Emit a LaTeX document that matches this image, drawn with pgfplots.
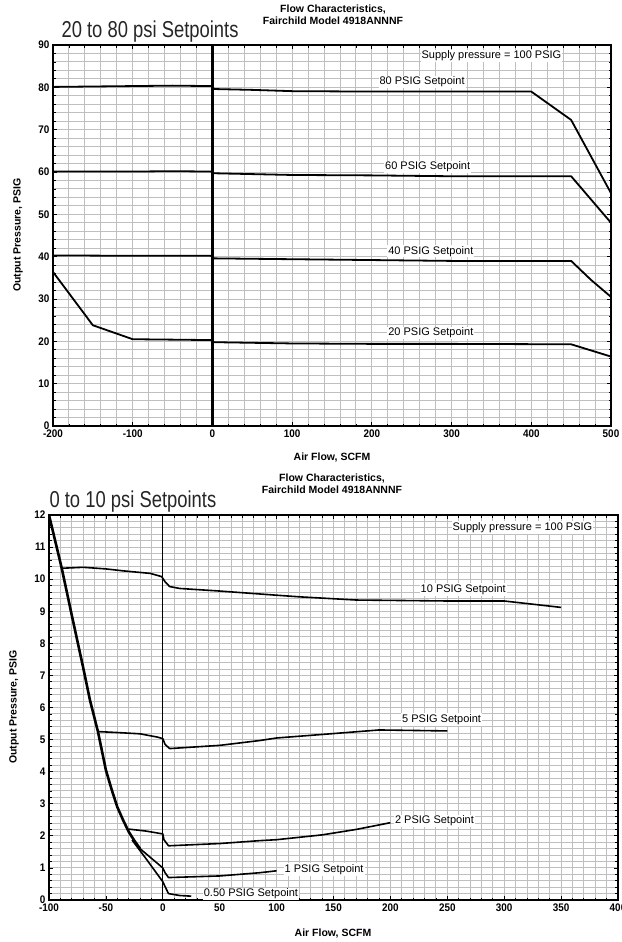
\documentclass[border=0pt]{standalone}
\usepackage{pgfplots}
\pgfplotsset{compat=1.18}
\usepackage{fontspec}
\setmainfont{Liberation Sans}
\newfontfamily\tickf[FakeStretch=0.9]{Liberation Sans}
\newfontfamily\bigt[FakeStretch=0.8]{Liberation Sans}

\pgfplotsset{
  flowaxis/.style={
    scale only axis,
    anchor=south west,
    grid=both,
    grid style={line width=0.9pt, black!25},
    minor grid style={line width=0.9pt, black!25},
    minor x tick num=4,
    minor y tick num=4,
    tick style={black, line width=0.8pt},
    major tick length=4pt,
    minor tick length=2.5pt,
    axis line style={line width=1.6pt},
    /pgf/number format/assume math mode=true,
    tick label style={font=\tickf\bfseries\fontsize{11}{11}\selectfont},
    cycle list={{black, solid, no marks}},
    every axis plot/.append style={line width=1.8pt, line join=round},
  },
}
\tikzset{lbl/.style={fill=white, inner sep=1pt, font=\fontsize{11}{11}\selectfont}}

\begin{document}
\begin{tikzpicture}
\useasboundingbox (0pt,0pt) rectangle (621pt,-942pt);

% ---------- upper chart: 20 to 80 psi ----------
\node[font=\bfseries\fontsize{10.5}{12}\selectfont, align=center] at (333pt,-15pt)
  {Flow Characteristics,\\Fairchild Model 4918ANNNF};
\node[anchor=base west, font=\bigt\fontsize{23}{23}\selectfont, text=black!85] at (58pt,-38pt)
  {20 to 80 psi Setpoints};
\node[font=\bfseries\fontsize{10.5}{12}\selectfont] at (332pt,-458pt) {Air Flow, SCFM};
\node[rotate=90, font=\bfseries\fontsize{10.5}{12}\selectfont] at (18pt,-235pt) {Output Pressure, PSIG};

\begin{axis}[
    flowaxis,
    at={(53pt,-426pt)},
    width=558pt, height=381pt,
    xmin=-200, xmax=500,
    ymin=0, ymax=90,
    xtick={-200,-100,...,500},
    ytick={0,10,...,90},
]
% zero flow line
\addplot[line width=2.4pt] coordinates {(0,0) (0,90)};

% 80 PSIG
\addplot coordinates {
  (-200,80.1) (-100,80.3) (-50,80.4) (-2,80.3) (0,80.2) (2,79.6) (50,79.4)
  (100,79.1) (200,79.0) (300,79.0) (400,79.0) (450,72.3) (500,55.0)
};
% 60 PSIG
\addplot coordinates {
  (-200,60.1) (-100,60.1) (-50,60.2) (-2,60.1) (0,60.0) (2,59.7) (100,59.3)
  (200,59.2) (300,59.0) (450,59.0) (500,48.0)
};
% 40 PSIG
\addplot coordinates {
  (-200,40.3) (-100,40.2) (-2,40.2) (0,40.0) (2,39.6) (100,39.4) (200,39.2)
  (300,39.0) (450,39.0) (475,34.5) (500,30.5)
};
% 20 PSIG
\addplot coordinates {
  (-200,36.4) (-150,23.8) (-100,20.5) (-50,20.4) (-2,20.3) (0,20.1) (2,19.8)
  (100,19.5) (200,19.4) (300,19.4) (450,19.3) (500,16.4)
};

\node[lbl] at (axis cs:350,87.4) {Supply pressure = 100 PSIG};
\node[lbl] at (axis cs:263,81.3) {80 PSIG Setpoint};
\node[lbl] at (axis cs:270,61.2) {60 PSIG Setpoint};
\node[lbl] at (axis cs:274,41.3) {40 PSIG Setpoint};
\node[lbl] at (axis cs:274,22.0) {20 PSIG Setpoint};
\end{axis}

% ---------- lower chart: 0 to 10 psi ----------
\node[font=\bfseries\fontsize{10.5}{12}\selectfont, align=center] at (332pt,-483.5pt)
  {Flow Characteristics,\\Fairchild Model 4918ANNNF};
\node[anchor=base west, font=\bigt\fontsize{23}{23}\selectfont, text=black!85] at (46pt,-507pt)
  {0 to 10 psi Setpoints};
\node[font=\bfseries\fontsize{10.5}{12}\selectfont] at (333pt,-933pt) {Air Flow, SCFM};
\node[rotate=90, font=\bfseries\fontsize{10.5}{12}\selectfont] at (14pt,-707pt) {Output Pressure, PSIG};

\begin{axis}[
    flowaxis,
    at={(49pt,-900pt)},
    width=569pt, height=385pt,
    xmin=-100, xmax=400,
    ymin=0, ymax=12,
    xtick={-100,-50,...,400},
    ytick={0,1,...,12},
    every axis plot/.append style={line width=1.6pt},
]
\addplot[line width=1.3pt] coordinates {(0,0) (0,12)};

% common envelope (reverse flow)
\addplot[line width=2.6pt] coordinates {
  (-100,12) (-88.8,10.34) (-80,8.88) (-70,7.25) (-64,6.23) (-57,5.25)
  (-50,4.05) (-45,3.45) (-40,2.9) (-35,2.5) (-30,2.13) (-25,1.85) (-20,1.6)
};
% 10 PSIG
\addplot coordinates {
  (-89,10.34) (-70,10.37) (-50,10.32) (-35,10.26) (-11,10.18) (-1,10.08)
  (2,9.92) (6,9.77) (15,9.71) (50,9.63) (100,9.5) (120,9.45) (170,9.35)
  (250,9.32) (300,9.32) (350,9.12)
};
% 5 PSIG
\addplot coordinates {
  (-57,5.25) (-40,5.22) (-20,5.18) (-5,5.08) (0,5.03) (2,4.85) (6,4.72)
  (50,4.82) (85,4.97) (100,5.05) (140,5.16) (190,5.3) (250,5.27)
};
% 2 PSIG
\addplot coordinates {
  (-30,2.21) (-15,2.15) (0,2.06) (1,1.88) (5,1.69) (50,1.76) (85,1.85)
  (100,1.88) (140,2.03) (170,2.2) (200,2.41)
};
% 1 PSIG
\addplot coordinates {
  (-20,1.6) (-10,1.3) (0,1.0) (2,0.85) (5,0.7) (50,0.75) (85,0.85) (100,0.91)
};
% 0.50 PSIG
\addplot coordinates {
  (-27,1.87) (-15,1.3) (0,0.57) (2,0.42) (5,0.2) (15,0.14) (25,0.12)
};

\node[lbl] at (axis cs:316,11.61) {Supply pressure = 100 PSIG};
\node[lbl] at (axis cs:264,9.68) {10 PSIG Setpoint};
\node[lbl] at (axis cs:245,5.63) {5 PSIG Setpoint};
\node[lbl, anchor=west] at (axis cs:203,2.47) {2 PSIG Setpoint};
\node[lbl, anchor=west] at (axis cs:106,0.95) {1 PSIG Setpoint};
\node[lbl, anchor=west] at (axis cs:35,0.19) {0.50 PSIG Setpoint};
\end{axis}
\end{tikzpicture}
\end{document}
